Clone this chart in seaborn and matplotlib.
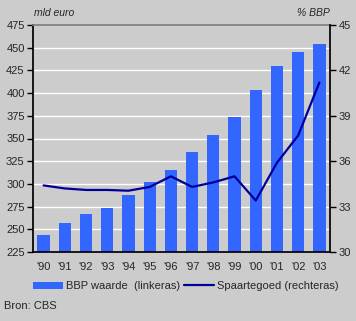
import matplotlib
matplotlib.use("Agg")
import matplotlib.pyplot as plt
import seaborn as sns
import pandas as pd
from matplotlib.patches import Patch
from matplotlib.lines import Line2D

years = ["'90", "'91", "'92", "'93", "'94", "'95", "'96", "'97", "'98", "'99", "'00", "'01", "'02", "'03"]
bbp_waarde = [244, 257, 267, 274, 288, 302, 315, 335, 354, 374, 403, 430, 445, 454]
spaartegoed = [34.4, 34.2, 34.1, 34.1, 34.05, 34.3, 35.0, 34.3, 34.6, 35.0, 33.4, 35.9, 37.7, 41.2]
left_ticks = [225, 250, 275, 300, 325, 350, 375, 400, 425, 450, 475]
right_ticks = [30, 33, 36, 39, 42, 45]

df = pd.DataFrame({"jaar": years, "bbp": bbp_waarde, "spaar": spaartegoed})

sns.set_theme(style="white")
plt.rcParams['font.family'] = ['Liberation Sans', 'DejaVu Sans']
BG = "#cccccc"
BAR = "#3366ff"
LINE = "#000099"
FS = 8

fig = plt.figure(figsize=(3.56, 3.21), dpi=100, facecolor=BG)
ax = fig.add_axes([33/356, 1-252/321, 297/356, 227/321])
ax.set_facecolor(BG)

sns.barplot(data=df, x="jaar", y="bbp", color=BAR, width=0.58, saturation=1, ax=ax,
            zorder=2, edgecolor="none", linewidth=0)
ax.set_ylim(225, 475)
ax.set_yticks(left_ticks)
ax.set_xlim(-0.5, len(years) - 0.5)
for t in left_ticks[1:-1]:
    ax.axhline(t, color="white", lw=1, zorder=1)
ax.set_xlabel("")
ax.set_ylabel("")

ax2 = ax.twinx()
sns.lineplot(data=df, x="jaar", y="spaar", color=LINE, lw=1.6, ax=ax2, sort=False, zorder=3)
ax2.set_ylim(30, 45)
ax2.set_yticks(right_ticks)
ax2.set_ylabel("")
ax2.set_xlim(-0.5, len(years) - 0.5)

for a in (ax, ax2):
    for s in ("left", "right", "bottom", "top"):
        a.spines[s].set_visible(False)
ax.spines["left"].set_visible(True)
ax.spines["left"].set_color("black")
ax.spines["bottom"].set_visible(True)
ax.spines["bottom"].set_color("black")
ax2.spines["right"].set_visible(True)
ax2.spines["right"].set_color("black")
ax.spines["top"].set_visible(True)
ax.spines["top"].set_color("#808080")

ax.tick_params(axis="y", direction="out", length=4, width=1, color="black", labelsize=FS, pad=2, left=True)
ax.tick_params(axis="x", length=0, labelsize=FS, pad=7)
ax2.tick_params(axis="y", direction="out", length=4, width=1, color="black", labelsize=FS, pad=2, right=True)

fig.text(34/356, 1-13/321, "mld euro", fontsize=7.5, style="italic", va="center", ha="left")
fig.text(330/356, 1-13/321, "% BBP", fontsize=7.5, style="italic", va="center", ha="right")

handles = [Patch(facecolor=BAR, edgecolor="none"), Line2D([0], [0], color=LINE, lw=1.6)]
labels = ["BBP waarde  (linkeras)", "Spaartegoed (rechteras)"]
fig.legend(handles, labels, loc="center left", bbox_to_anchor=(33/356, 1-286/321), ncol=2,
           frameon=False, fontsize=FS, handlelength=2.7, handleheight=0.6, handletextpad=0.25,
           columnspacing=0.4, borderpad=0, borderaxespad=0)

fig.text(4/356, 1-306/321, "Bron: CBS", fontsize=FS, va="center", ha="left")

fig.savefig("out.png", dpi=100, facecolor=BG)
